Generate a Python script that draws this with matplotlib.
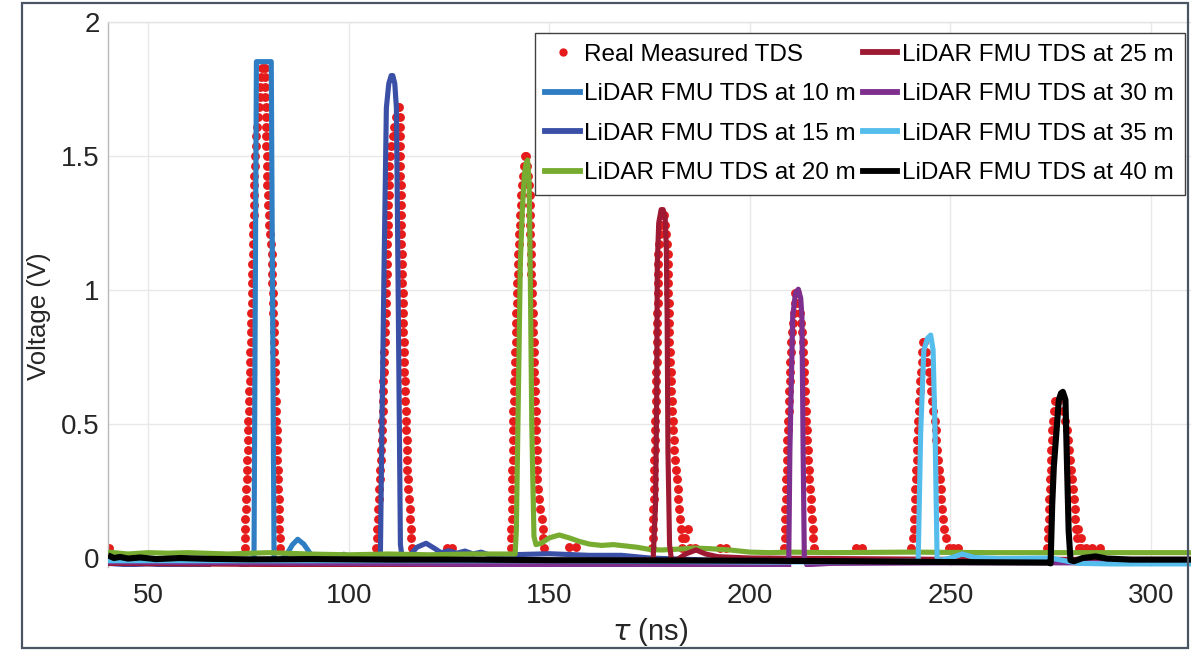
import matplotlib
matplotlib.use("Agg")
import matplotlib.pyplot as plt
from matplotlib.lines import Line2D
from matplotlib.patches import Rectangle

plt.rcParams['font.family'] = ['Liberation Sans', 'DejaVu Sans']

# ---------------- data ----------------
# quantised voltage levels of the measured (oscilloscope) samples
LEVELS = [0.037, 0.073, 0.110, 0.146, 0.183, 0.220, 0.256, 0.293, 0.329, 0.366,
          0.403, 0.439, 0.476, 0.512, 0.549, 0.586, 0.622, 0.659, 0.695, 0.732,
          0.769, 0.805, 0.842, 0.878, 0.915, 0.952, 0.988, 1.025, 1.061, 1.098,
          1.135, 1.171, 1.208, 1.244, 1.281, 1.318, 1.354, 1.391, 1.427, 1.464,
          1.501, 1.537, 1.574, 1.610, 1.647, 1.684, 1.720, 1.757, 1.793, 1.830]

# measured TDS: time (ns) of the rising / falling samples at each level
meas10_rise = [74.05, 74.1, 74.18, 74.25, 74.33, 74.4, 74.48, 74.55, 74.63, 74.7,
               74.78, 74.85, 74.93, 75.0, 75.08, 75.15, 75.23, 75.3, 75.38, 75.44,
               75.5, 75.56, 75.61, 75.67, 75.73, 75.78, 75.84, 75.9, 75.95, 76.0,
               76.06, 76.12, 76.18, 76.23, 76.28, 76.33, 76.38, 76.43, 76.48, 76.53,
               76.6, 76.8, 77.0, 77.2, 77.4, 77.6, 77.8, 78.0, 78.2, 78.4]
meas10_fall = [82.9, 82.8, 82.73, 82.66, 82.59, 82.52, 82.45, 82.38, 82.31, 82.24,
               82.17, 82.1, 82.03, 81.96, 81.89, 81.82, 81.75, 81.68, 81.6, 81.53,
               81.47, 81.4, 81.33, 81.27, 81.2, 81.13, 81.07, 81.0, 80.93, 80.87,
               80.8, 80.6, 80.4, 80.2, 80.08, 79.95, 79.83, 79.7, 79.65, 79.6,
               79.55, 79.5, 79.45, 79.4, 79.35, 79.3, 79.25, 79.2, 79.15, 79.1]
meas15_rise = [106.8, 106.95, 107.08, 107.2, 107.33, 107.45, 107.58, 107.7, 107.83, 107.95,
               108.08, 108.2, 108.28, 108.36, 108.44, 108.52, 108.6, 108.68, 108.76, 108.84,
               108.92, 109.0, 109.06, 109.13, 109.19, 109.25, 109.32, 109.38, 109.44, 109.51,
               109.57, 109.63, 109.7, 109.76, 109.82, 109.89, 109.95, 110.01, 110.08, 110.14,
               110.2, 110.6, 111.0, 111.4, 111.8, 112.3]
meas15_fall = [115.7, 115.6, 115.46, 115.32, 115.18, 115.04, 114.9, 114.76, 114.64, 114.57,
               114.5, 114.42, 114.35, 114.27, 114.2, 114.12, 114.05, 113.97, 113.9, 113.84,
               113.79, 113.73, 113.67, 113.61, 113.56, 113.5, 113.44, 113.39, 113.33, 113.27,
               113.21, 113.16, 113.1, 113.07, 113.03, 113.0, 112.96, 112.93, 112.89, 112.86,
               112.82, 112.79, 112.75, 112.72, 112.68, 112.6]
meas20_rise = [140.5, 140.54, 140.58, 140.62, 140.65, 140.69, 140.73, 140.77, 140.81, 140.85,
               140.88, 140.92, 140.96, 141.0, 141.08, 141.15, 141.23, 141.3, 141.38, 141.45,
               141.53, 141.6, 141.68, 141.75, 141.83, 141.9, 141.98, 142.05, 142.13, 142.2,
               142.31, 142.43, 142.54, 142.66, 142.77, 142.89, 143.0, 143.2, 143.45, 143.7,
               143.9]
meas20_fall = [148.6, 148.5, 148.4, 148.08, 147.75, 147.43, 147.1, 147.05, 146.99, 146.93,
               146.87, 146.81, 146.76, 146.7, 146.62, 146.55, 146.47, 146.4, 146.32, 146.25,
               146.17, 146.1, 146.02, 145.95, 145.87, 145.8, 145.72, 145.65, 145.57, 145.5,
               145.44, 145.39, 145.33, 145.27, 145.21, 145.16, 145.1, 144.9, 144.7, 144.5,
               144.3]
meas25_rise = [175.7, 175.76, 175.82, 175.88, 175.94, 176.0, 176.06, 176.12, 176.18, 176.24,
               176.3, 176.35, 176.4, 176.45, 176.5, 176.55, 176.6, 176.65, 176.7, 176.75,
               176.8, 176.84, 176.88, 176.92, 176.96, 177.0, 177.04, 177.08, 177.12, 177.16,
               177.2, 177.4, 177.6, 177.8, 178.0]
meas25_fall = [183.2, 183.0, 182.8, 182.6, 182.4, 182.2, 182.0, 181.8, 181.6, 181.4,
               181.2, 181.08, 180.96, 180.84, 180.72, 180.6, 180.48, 180.36, 180.24, 180.12,
               180.0, 179.95, 179.9, 179.85, 179.8, 179.75, 179.7, 179.65, 179.6, 179.55,
               179.5, 179.3, 179.1, 178.9, 178.7]
meas30_rise = [208.6, 208.67, 208.74, 208.81, 208.88, 208.95, 209.02, 209.09, 209.16, 209.23,
               209.3, 209.39, 209.48, 209.57, 209.66, 209.75, 209.84, 209.93, 210.02, 210.11,
               210.2, 210.39, 210.58, 210.77, 210.96, 211.15, 211.3]
meas30_fall = [216.0, 215.84, 215.68, 215.52, 215.36, 215.2, 215.04, 214.88, 214.72, 214.56,
               214.4, 214.29, 214.18, 214.08, 213.97, 213.86, 213.75, 213.64, 213.53, 213.43,
               213.32, 213.21, 213.1, 212.78, 212.45, 212.13, 211.8]
meas35_rise = [240.3, 240.7, 240.95, 241.05, 241.15, 241.2, 241.3, 241.4, 241.5, 241.6,
               241.7, 241.8, 241.9, 242.0, 242.1, 242.2, 242.36, 242.52, 242.68, 242.84,
               243.0, 243.1]
meas35_fall = [249.7, 248.8, 248.3, 248.1, 247.9, 247.7, 247.55, 247.4, 247.2, 246.98,
               246.76, 246.54, 246.32, 246.1, 245.8, 245.5, 245.2, 244.95, 244.7, 244.3,
               243.9, 243.5]
meas40_rise = [274.2, 274.3, 274.4, 274.5, 274.6, 274.7, 274.8, 274.9, 275.0, 275.1,
               275.2, 275.3, 275.4, 275.65, 275.9, 276.2]
meas40_fall = [282.0, 281.6, 281.4, 281.2, 281.0, 280.75, 280.5, 280.25, 280.0, 279.75,
               279.5, 279.25, 279.0, 278.7, 278.2, 276.9]
# isolated measured samples near the baseline
meas_extra_t = [40.3, 40.3, 124.4, 125.8, 155.0, 156.7, 183.8, 184.6, 185.0, 186.4,
                192.6, 194.0, 226.4, 227.9, 250.6, 251.9, 282.6, 283.9, 285.4, 287.3,
                282.5, 281.9]
meas_extra_v = [0.037, 0.0, 0.037, 0.037, 0.04, 0.04, 0.073, 0.11, 0.037, 0.037,
                0.037, 0.037, 0.037, 0.037, 0.037, 0.037, 0.037, 0.037, 0.037, 0.037,
                0.073, 0.11]

# LiDAR FMU simulated TDS curves
fmu10_t = [40, 50, 60, 70, 76.4, 77.0, 80.7, 81.4, 82.5, 84.5, 86.0, 87.3, 88.8, 90.5,
           92.5, 95.5, 97.5, 98.8, 100.5, 102.5, 104.5, 106.5, 108.5, 110.5, 113, 118,
           130, 150, 200, 250, 310]
fmu10_v = [-0.006, -0.004, -0.006, -0.005, -0.005, 1.852, 1.852, -0.005, -0.012, 0.012,
           0.05, 0.07, 0.052, 0.015, 0.0, 0.002, 0.008, 0.014, 0.003, 0.004, 0.013,
           0.008, 0.012, 0.004, -0.005, -0.01, -0.012, -0.012, -0.012, -0.012, -0.012]
fmu15_t = [40, 45, 50, 55, 60, 65.3, 65.5, 73.2, 73.4, 74.6, 74.8, 90, 107.9, 108.3,
           108.8, 109.4, 110.0, 110.6, 111.0, 111.5, 111.9, 112.3, 112.9, 113.5, 115.0,
           117.0, 119.3, 121.5, 123.0, 125.0, 127.0, 129.0, 131.0, 133.0, 135.0, 140,
           150, 160, 168, 175, 190, 250, 310]
fmu15_v = [-0.02, -0.025, -0.022, -0.026, -0.024, -0.025, -0.006, -0.006, -0.03, -0.03,
           -0.006, -0.006, -0.005, 0.5, 1.06, 1.68, 1.77, 1.80, 1.80, 1.77, 1.68, 1.06,
           0.05, -0.015, 0.005, 0.04, 0.055, 0.035, 0.02, 0.027, 0.018, 0.026, 0.015,
           0.022, 0.012, 0.012, 0.016, 0.01, 0.01, 0.0, -0.008, -0.01, -0.01]
fmu20_t = [40, 45, 50, 55, 60, 70, 80, 90, 100, 110, 120, 130, 141.5, 141.8, 142.2,
           142.8, 143.3, 143.8, 144.2, 144.6, 145.0, 145.25, 145.65, 145.9, 146.2,
           146.7, 148.0, 150.0, 152.5, 155.0, 157.5, 160.0, 163.0, 166.0, 169.0, 172.0,
           175.0, 178.0, 182.0, 186.0, 190.0, 195.0, 200.0, 205.0, 210.0, 220, 240,
           260, 280, 310]
fmu20_v = [0.022, 0.015, 0.02, 0.018, 0.02, 0.015, 0.02, 0.015, 0.012, 0.015, 0.012,
           0.015, 0.015, 0.1, 0.5, 1.1, 1.3, 1.43, 1.47, 1.485, 1.40, 1.10, 0.50, 0.3,
           0.08, 0.05, 0.055, 0.075, 0.086, 0.075, 0.062, 0.052, 0.047, 0.05, 0.045,
           0.04, 0.032, 0.03, 0.033, 0.037, 0.035, 0.03, 0.022, 0.02, 0.022, 0.02,
           0.022, 0.02, 0.02, 0.02]
fmu25_t = [40, 60, 80, 100, 120, 135, 150, 175.9, 176.5, 176.8, 176.95, 177.3, 177.9,
           178.4, 178.9, 179.2, 179.4, 179.6, 180.0, 180.5, 182.0, 184.0, 186.6, 189.0,
           192.0, 200, 250, 310]
fmu25_v = [-0.02, -0.022, -0.024, -0.025, -0.026, -0.026, -0.01, -0.008, 0.2, 0.6, 1.1,
           1.25, 1.30, 1.30, 1.27, 1.15, 0.9, 0.4, 0.05, -0.01, -0.005, 0.015, 0.03,
           0.015, 0.005, 0.0, -0.005, -0.005]
fmu30_t = [40, 100, 150, 175, 200, 209.7, 210.0, 210.7, 211.4, 212.1, 212.7, 213.0,
           213.3, 213.6, 214.2, 220, 250, 310]
fmu30_v = [-0.015, -0.02, -0.025, -0.03, -0.032, -0.03, 0.4, 0.90, 0.99, 1.003, 0.97,
           0.90, 0.40, 0.0, -0.025, -0.02, -0.018, -0.018]
fmu35_t = [40, 100, 150, 205, 241.8, 242.0, 242.6, 243.4, 244.3, 245.1, 245.7, 246.2,
           246.7, 247.5, 250.0, 253.0, 256.0, 262, 275, 282, 290, 310]
fmu35_v = [-0.01, -0.01, -0.01, -0.015, -0.012, 0.0, 0.466, 0.776, 0.82, 0.832, 0.776,
           0.466, 0.0, -0.008, 0.0, 0.015, 0.002, -0.002, 0.0, -0.02, -0.022, -0.022]
fmu40_t = [40, 41.5, 43, 45, 48, 52, 58, 65, 75, 90, 110, 130, 150, 175, 200, 225, 250,
           274.8, 275.0, 275.4, 275.8, 276.5, 277.05, 277.6, 278.05, 278.5, 278.7,
           279.1, 279.5, 279.96, 280.8, 283.0, 286.2, 289.0, 295.0, 310]
fmu40_v = [0.01, 0.0, 0.004, -0.002, 0.002, -0.004, 0.0, -0.003, -0.005, -0.004,
           -0.006, -0.006, -0.008, -0.009, -0.01, -0.012, -0.015, -0.017, -0.02, 0.2,
           0.34, 0.48, 0.59, 0.615, 0.62, 0.60, 0.59, 0.34, 0.1, -0.008, -0.012, 0.0,
           0.006, -0.002, -0.006, -0.006]

labels = ['Real Measured TDS',
          'LiDAR FMU TDS at 10 m', 'LiDAR FMU TDS at 15 m', 'LiDAR FMU TDS at 20 m',
          'LiDAR FMU TDS at 25 m', 'LiDAR FMU TDS at 30 m', 'LiDAR FMU TDS at 35 m',
          'LiDAR FMU TDS at 40 m']
colors = ['#e61c1c', '#2f7ec3', '#3a4fa6', '#77ac30', '#9e1a32', '#7e2f8e',
          '#55bdec', '#000000']
x_ticks = [50, 100, 150, 200, 250, 300]
y_ticks = [0, 0.5, 1, 1.5, 2]
y_ticklabels = ['0', '0.5', '1', '1.5', '2']

# ---------------- figure ----------------
W, H = 1191, 650
fig = plt.figure(figsize=(W / 100, H / 100), dpi=100)
ax = fig.add_axes([108 / W, (H - 567.4) / H, 1083 / W, 545.4 / H])

meas_t, meas_v = [], []
for rise, fall in [(meas10_rise, meas10_fall), (meas15_rise, meas15_fall),
                   (meas20_rise, meas20_fall), (meas25_rise, meas25_fall),
                   (meas30_rise, meas30_fall), (meas35_rise, meas35_fall),
                   (meas40_rise, meas40_fall)]:
    meas_t += list(rise) + list(fall)
    meas_v += LEVELS[:len(rise)] + LEVELS[:len(fall)]
meas_t += meas_extra_t
meas_v += meas_extra_v

ax.plot(meas_t, meas_v, linestyle='none', marker='o', markersize=6.4,
        markeredgewidth=0, color=colors[0], zorder=2)

curves = [(fmu10_t, fmu10_v), (fmu15_t, fmu15_v), (fmu20_t, fmu20_v),
          (fmu25_t, fmu25_v), (fmu30_t, fmu30_v), (fmu35_t, fmu35_v),
          (fmu40_t, fmu40_v)]
for i, (t, v) in enumerate(curves):
    lw = 4.4 if i == 6 else 3.7
    ax.plot(t, v, color=colors[i + 1], linewidth=lw, zorder=3 + i,
            solid_joinstyle='round', solid_capstyle='butt')

ax.set_xlim(40, 310)
ax.set_ylim(-0.035, 2.0)
ax.set_xticks(x_ticks)
ax.set_xticklabels([str(x) for x in x_ticks])
ax.set_yticks(y_ticks)
ax.set_yticklabels(y_ticklabels)
ax.tick_params(axis='both', length=0, labelsize=20, colors='#262626')
ax.tick_params(axis='x', pad=11)
ax.tick_params(axis='y', pad=6)
ax.grid(True, color='#e8e8e8', linewidth=1.0)
ax.set_axisbelow(True)
for s in ['right', 'bottom']:
    ax.spines[s].set_visible(False)
ax.spines['left'].set_color('#b8b8b8')
ax.spines['top'].set_color('#e4e4e4')
ax.spines['left'].set_linewidth(1.0)
ax.spines['top'].set_linewidth(1.0)

ax.set_xlabel(r'$\tau$ (ns)', fontsize=21, color='#262626')
ax.xaxis.label.set_va('center')
ax.xaxis.set_label_coords((650 - 108) / 1083, (567.4 - 632) / 545.4)
ax.set_ylabel('Voltage (V)', fontsize=18.5, color='#262626')
ax.yaxis.label.set_va('center')
ax.yaxis.set_label_coords((39 - 108) / 1083, (567.4 - 316) / 545.4)

handles = [Line2D([], [], linestyle='none', marker='o', markersize=6.0,
                  markeredgewidth=0, color=colors[0])]
for i in range(7):
    handles.append(Line2D([], [], color=colors[i + 1], linewidth=4.2))
leg = ax.legend(handles, labels, ncol=2, loc='upper right',
                bbox_to_anchor=(1185 / W, 1 - 33 / H), bbox_transform=fig.transFigure,
                borderaxespad=0, fontsize=17.5, handlelength=1.4, handletextpad=0.2,
                columnspacing=0.3, labelspacing=0.72, borderpad=0.45,
                fancybox=False, framealpha=1, edgecolor='#404040')
leg.get_frame().set_linewidth(1.0)
leg.set_zorder(20)

fig.patches.append(Rectangle((22 / W, 2 / H), 1166 / W, 645 / H,
                             transform=fig.transFigure, fill=False,
                             edgecolor='#4a5563', linewidth=1.6, zorder=30))

fig.savefig('out.png', dpi=100)
